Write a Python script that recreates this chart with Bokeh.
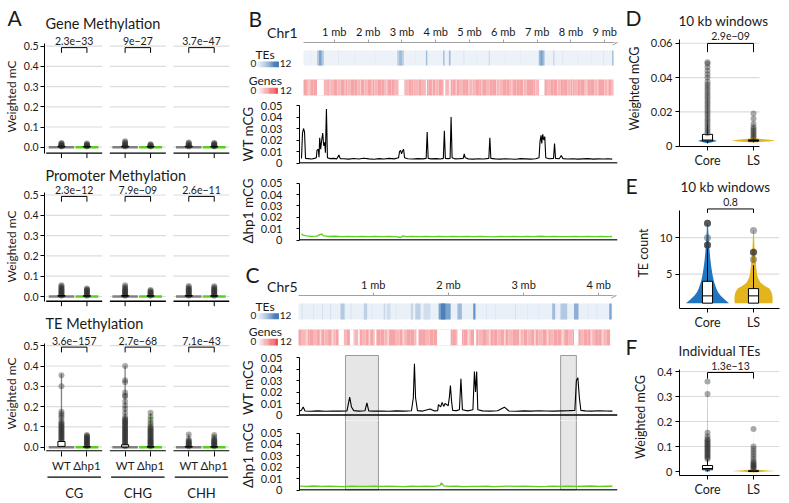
from bokeh.plotting import figure
from bokeh.layouts import row, column
from bokeh.models import Range1d, FixedTicker, NumeralTickFormatter, Span, Arrow, OpenHead
from bokeh.embed import file_html
from bokeh.resources import INLINE
from bokeh.core.properties import value

FONT = "Lato"
INK = "#1a1a1a"
GREEN = "#5acf1e"
VGREY = "#808080"
BLUE = "#1f77c0"
GOLD = "#e4b41f"
PTC = "#333333"
GRIDC = "#dcdcdc"
RULERC = "#a0a0a0"

# ======================= DATA =======================
# ---- Panel A ----
contexts = ["CG", "CHG", "CHH"]
genotypes = ["WT", "Δhp1"]
gene_pvals = ["2.3e−33", "9e−27", "3.7e−47"]
prom_pvals = ["2.3e−12", "7.9e−09", "2.6e−11"]
te_pvals = ["3.6e−157", "2.7e−68", "7.1e−43"]
a_yticks = [0, 0.1, 0.2, 0.3, 0.4, 0.5]

gene_wt_pts = [[0.003, 0.006, 0.009, 0.012, 0.015, 0.018, 0.021],
               [0.003, 0.007, 0.011, 0.015, 0.019, 0.024, 0.029],
               [0.003, 0.007, 0.011, 0.015, 0.019, 0.023]]
gene_hp_pts = [[0.003, 0.006, 0.009, 0.012, 0.015, 0.018],
               [0.003, 0.006, 0.009, 0.012, 0.015],
               [0.003, 0.006, 0.009, 0.012, 0.015, 0.018, 0.021]]
prom_wt_pts = [[0.004, 0.008, 0.012, 0.016, 0.02, 0.024, 0.028, 0.032, 0.036, 0.04, 0.045, 0.05, 0.055],
               [0.004, 0.008, 0.012, 0.016, 0.02, 0.024, 0.028, 0.032, 0.036, 0.042, 0.048, 0.055],
               [0.004, 0.008, 0.012, 0.016, 0.02, 0.024, 0.028, 0.032, 0.036, 0.04, 0.046, 0.052]]
prom_hp_pts = [[0.004, 0.008, 0.012, 0.016, 0.02, 0.024, 0.028, 0.032, 0.036, 0.04],
               [0.004, 0.008, 0.012, 0.016, 0.02, 0.024, 0.028, 0.032],
               [0.004, 0.008, 0.012, 0.016, 0.02, 0.024, 0.028, 0.032, 0.036, 0.04, 0.045, 0.05]]
te_wt_pts = [[0.03, 0.035, 0.04, 0.045, 0.05, 0.055, 0.06, 0.065, 0.07, 0.075, 0.08, 0.085, 0.09,
              0.095, 0.1, 0.105, 0.11, 0.115, 0.12, 0.13, 0.145, 0.155, 0.165, 0.175, 0.3, 0.355],
             [0.005, 0.01, 0.015, 0.02, 0.025, 0.03, 0.035, 0.04, 0.045, 0.05, 0.055, 0.06, 0.065,
              0.07, 0.075, 0.08, 0.085, 0.09, 0.095, 0.1, 0.105, 0.11, 0.115, 0.12, 0.125, 0.13,
              0.135, 0.14, 0.15, 0.17, 0.19, 0.205, 0.225, 0.25, 0.255, 0.27, 0.32, 0.33, 0.4],
             [0.004, 0.008, 0.012, 0.016, 0.02, 0.024, 0.028, 0.032, 0.04, 0.062]]
te_hp_pts = [[0.004, 0.008, 0.012, 0.016, 0.02, 0.024, 0.028, 0.032, 0.036, 0.04, 0.044, 0.048,
              0.052, 0.056, 0.06],
             [0.004, 0.008, 0.012, 0.016, 0.02, 0.024, 0.028, 0.032, 0.036, 0.04, 0.045, 0.05,
              0.055, 0.06, 0.065, 0.07, 0.075, 0.08, 0.085, 0.09, 0.095, 0.1, 0.11, 0.12, 0.135,
              0.15, 0.17],
             [0.004, 0.008, 0.012, 0.016, 0.02, 0.024, 0.028, 0.032, 0.036, 0.04, 0.05, 0.06]]
gene_q1_wt = [0.001, 0.001, 0.001]; gene_q3_wt = [0.005, 0.005, 0.005]
gene_q1_hp = [0.001, 0.001, 0.001]; gene_q3_hp = [0.004, 0.004, 0.004]
prom_q1_wt = [0.001, 0.001, 0.001]; prom_q3_wt = [0.005, 0.005, 0.005]
prom_q1_hp = [0.001, 0.001, 0.001]; prom_q3_hp = [0.004, 0.004, 0.004]
te_q1_wt = [0.004, 0.001, 0.0005]; te_q3_wt = [0.028, 0.012, 0.004]
te_q1_hp = [0.0005, 0.0005, 0.0005]; te_q3_hp = [0.003, 0.003, 0.003]
gene_tail_wt = [0.021, 0.029, 0.023]; gene_tail_hp = [0.018, 0.015, 0.021]
prom_tail_wt = [0.055, 0.055, 0.052]; prom_tail_hp = [0.04, 0.032, 0.05]
te_tail_wt = [0.36, 0.40, 0.065]; te_tail_hp = [0.062, 0.17, 0.06]

# ---- Panel B (Chr1) ----
chr1_ticks = [1, 2, 3, 4, 5, 6, 7, 8, 9]
chr1_start = 0.09
chr1_len = 9.26
te1_bg = 1.0
te1_s = [0.49, 0.55, 2.86, 2.92, 3.71, 4.22, 4.39, 5.57, 7.05, 7.10, 7.48, 9.22,
         0.30, 1.12, 1.60, 2.20, 3.40, 4.82, 5.20, 6.05, 6.50, 7.75, 8.20, 8.60, 8.95]
te1_e = [0.69, 0.62, 3.06, 3.00, 3.75, 4.26, 4.44, 5.60, 7.22, 7.16, 7.51, 9.26,
         0.32, 1.14, 1.62, 2.22, 3.42, 4.85, 5.22, 6.07, 6.52, 7.77, 8.22, 8.62, 8.97]
te1_v = [4, 7, 3.5, 5, 5, 5, 5, 3, 5, 7, 3.5, 5,
         1.6, 2, 1.6, 1.6, 1.6, 2, 1.6, 1.6, 1.6, 2, 1.6, 1.6, 2]
gene1_bin = 0.1
gene1_vals = [5, 4, 5, 5, 4, 5, 4, 5, 4, 5, 4, 5, 5, 4, 5, 5, 4, 5, 4, 5,
              5, 4, 5, 5, 4, 5, 5, 4, 5, 4, 4, 5, 5, 4, 5, 4, 5, 5, 5, 4,
              5, 5, 4, 5, 5, 5, 4, 5, 5, 4, 4, 5, 5, 5, 4, 5, 5, 4, 4, 5,
              5, 4, 5, 5, 5, 4, 5, 5, 5, 4, 5, 5, 4, 5, 5, 4, 5, 5, 4, 5,
              4, 5, 5, 4, 5, 5, 4, 5, 5, 4, 5, 4]
gene1_gap_s = [0.49, 2.90, 3.71, 4.23, 4.40, 7.06]
gene1_gap_e = [0.69, 3.07, 3.74, 4.28, 4.44, 7.22]
gene1_light = [0.25, 0.85, 1.32, 1.78, 2.12, 2.55, 3.35, 3.90, 4.62, 4.97,
               5.35, 5.80, 6.25, 6.60, 6.95, 7.60, 8.05, 8.45, 8.80, 9.10]

wt1_x = [0.00, 0.03, 0.06, 0.09, 0.12, 0.20, 0.30, 0.38, 0.44, 0.46,
         0.50, 0.52, 0.54, 0.57, 0.60, 0.63, 0.66, 0.69, 0.71, 0.74,
         0.77, 0.85, 0.95, 1.05, 1.11, 1.15, 1.25, 1.40, 1.55, 1.70,
         1.85, 2.00, 2.15, 2.30, 2.45, 2.60, 2.75, 2.88, 2.91, 2.94,
         2.97, 3.00, 3.03, 3.06, 3.15, 3.30, 3.45, 3.60, 3.70, 3.73,
         3.76, 3.85, 4.00, 4.12, 4.21, 4.24, 4.27, 4.35, 4.41, 4.44,
         4.47, 4.55, 4.70, 4.80, 4.83, 4.86, 4.95, 5.10, 5.25, 5.40,
         5.56, 5.59, 5.62, 5.75, 5.90, 6.05, 6.20, 6.35, 6.50, 6.65,
         6.80, 6.95, 7.05, 7.08, 7.11, 7.13, 7.16, 7.19, 7.22, 7.25,
         7.35, 7.48, 7.51, 7.54, 7.65, 7.71, 7.76, 7.90, 8.05, 8.20,
         8.35, 8.50, 8.65, 8.80, 8.95, 9.10, 9.22]
wt1_y = [0.0040, 0.0260, 0.0300, 0.0270, 0.0040, 0.0038, 0.0035, 0.0040, 0.0045, 0.0110,
         0.0120, 0.0050, 0.0220, 0.0120, 0.0200, 0.0260, 0.0150, 0.0180, 0.0090, 0.0470,
         0.0045, 0.0038, 0.0040, 0.0036, 0.0070, 0.0038, 0.0037, 0.0034, 0.0039, 0.0035,
         0.0041, 0.0036, 0.0033, 0.0038, 0.0035, 0.0040, 0.0036, 0.0045, 0.0100, 0.0110,
         0.0080, 0.0105, 0.0120, 0.0045, 0.0037, 0.0035, 0.0038, 0.0036, 0.0040, 0.0270,
         0.0040, 0.0036, 0.0038, 0.0035, 0.0040, 0.0280, 0.0040, 0.0038, 0.0040, 0.0400,
         0.0045, 0.0036, 0.0038, 0.0040, 0.0080, 0.0045, 0.0036, 0.0034, 0.0037, 0.0035,
         0.0040, 0.0220, 0.0040, 0.0036, 0.0034, 0.0037, 0.0035, 0.0033, 0.0038, 0.0036,
         0.0034, 0.0037, 0.0045, 0.0190, 0.0240, 0.0170, 0.0250, 0.0200, 0.0230, 0.0045,
         0.0037, 0.0040, 0.0170, 0.0040, 0.0037, 0.0065, 0.0038, 0.0035, 0.0037, 0.0034,
         0.0036, 0.0038, 0.0034, 0.0036, 0.0035, 0.0037, 0.0034]
hp1_x = [0.00, 0.05, 0.15, 0.30, 0.45, 0.55, 0.60, 0.65, 0.80, 1.00,
         1.20, 1.40, 1.60, 1.80, 2.00, 2.20, 2.40, 2.60, 2.80, 2.95,
         3.00, 3.10, 3.30, 3.50, 3.70, 3.90, 4.10, 4.30, 4.50, 4.70,
         4.90, 5.10, 5.30, 5.50, 5.70, 5.90, 6.10, 6.30, 6.50, 6.70,
         6.90, 7.10, 7.30, 7.50, 7.70, 7.90, 8.10, 8.30, 8.50, 8.70,
         8.90, 9.10, 9.22]
hp1_y = [0.0055, 0.0042, 0.0036, 0.0032, 0.0034, 0.0048, 0.0053, 0.0036, 0.0031, 0.0033,
         0.0030, 0.0032, 0.0029, 0.0031, 0.0030, 0.0032, 0.0029, 0.0031, 0.0030, 0.0022,
         0.0036, 0.0030, 0.0031, 0.0029, 0.0032, 0.0030, 0.0031, 0.0029, 0.0031, 0.0030,
         0.0032, 0.0029, 0.0031, 0.0030, 0.0028, 0.0031, 0.0030, 0.0032, 0.0029, 0.0031,
         0.0030, 0.0033, 0.0029, 0.0031, 0.0030, 0.0029, 0.0031, 0.0030, 0.0032, 0.0029,
         0.0031, 0.0030, 0.0031]

# ---- Panel C (Chr5) ----
chr5_ticks = [1, 2, 3, 4]
chr5_start = 0.0
chr5_len = 4.18
te5_bg = 1.1
te5_s = [0.05, 0.32, 0.43, 0.565, 0.70, 0.875, 1.14, 1.18, 1.50, 1.56, 1.67, 1.87, 1.90, 2.12,
         2.33, 2.89, 3.38, 3.49, 3.67, 4.14, 0.20, 0.98, 1.30, 2.50, 2.62, 3.05, 3.20, 3.85, 3.97]
te5_e = [0.06, 0.33, 0.44, 0.62, 0.71, 0.92, 1.16, 1.23, 1.53, 1.63, 1.76, 2.03, 1.96, 2.18,
         2.36, 2.90, 3.42, 3.58, 3.73, 4.17, 0.21, 0.99, 1.31, 2.51, 2.63, 3.06, 3.21, 3.86, 3.98]
te5_v = [2.5, 2.5, 2.5, 4, 2.5, 3.5, 3, 2.5, 3, 3.5, 2.5, 7, 9.5, 5,
         8, 2.5, 5, 4, 6, 7, 1.8, 1.8, 1.8, 1.8, 1.8, 1.8, 1.8, 2, 2]
gene5_bin = 0.05
gene5_vals = [5, 4, 5, 5, 4, 5, 5, 4, 5, 4, 5, 5, 4, 5, 5, 4, 5, 4, 5, 5,
              4, 5, 5, 4, 5, 5, 4, 5, 4, 5, 5, 4, 5, 5, 4, 5, 5, 4, 5, 4,
              5, 5, 4, 5, 5, 4, 5, 5, 4, 5, 4, 5, 5, 4, 5, 5, 4, 5, 5, 4,
              5, 4, 5, 5, 4, 5, 5, 4, 5, 5, 4, 5, 4, 5, 5, 4, 5, 5, 4, 5,
              5, 4, 5]
gene5_gap_s = [0.54, 0.69, 0.80, 1.02, 1.575, 1.85, 2.12, 2.34, 3.67]
gene5_gap_e = [0.61, 0.74, 0.82, 1.04, 1.600, 2.03, 2.18, 2.37, 3.73]
gene5_light = [0.12, 0.30, 0.46, 0.95, 1.20, 1.40, 2.27, 2.55, 2.75, 2.95, 3.15, 3.32, 3.52, 3.90, 4.05]
hl5_s = [0.62, 3.49]
hl5_e = [1.06, 3.70]
wt5_x = [0.00, 0.03, 0.056, 0.08, 0.15, 0.25, 0.35, 0.45, 0.55, 0.64,
         0.676, 0.70, 0.73, 0.80, 0.88, 0.906, 0.93, 1.00, 1.10, 1.20,
         1.30, 1.40, 1.50, 1.525, 1.54, 1.555, 1.58, 1.65, 1.75, 1.80,
         1.85, 1.86, 1.89, 1.91, 1.93, 1.95, 1.97, 1.99, 2.005, 2.02,
         2.035, 2.05, 2.10, 2.14, 2.16, 2.18, 2.25, 2.32, 2.34, 2.355,
         2.37, 2.385, 2.45, 2.55, 2.65, 2.74, 2.80, 2.90, 3.00, 3.10,
         3.20, 3.30, 3.40, 3.50, 3.60, 3.68, 3.70, 3.72, 3.74, 3.76,
         3.82, 3.90, 4.00, 4.10, 4.18]
wt5_y = [0.0035, 0.0040, 0.0070, 0.0035, 0.0033, 0.0036, 0.0032, 0.0035, 0.0034, 0.0036,
         0.0155, 0.0070, 0.0038, 0.0034, 0.0037, 0.0105, 0.0036, 0.0034, 0.0035, 0.0033,
         0.0036, 0.0034, 0.0037, 0.0150, 0.0445, 0.0150, 0.0038, 0.0034, 0.0052, 0.0036,
         0.0038, 0.0090, 0.0070, 0.0110, 0.0075, 0.0100, 0.0090, 0.0080, 0.0150, 0.0257,
         0.0120, 0.0040, 0.0038, 0.0045, 0.0315, 0.0045, 0.0036, 0.0045, 0.0378, 0.0200,
         0.0378, 0.0045, 0.0036, 0.0034, 0.0037, 0.0068, 0.0035, 0.0033, 0.0036, 0.0034,
         0.0037, 0.0035, 0.0034, 0.0036, 0.0038, 0.0040, 0.0300, 0.0323, 0.0150, 0.0040,
         0.0036, 0.0034, 0.0037, 0.0035, 0.0034]
hp5_x = [0.00, 0.10, 0.20, 0.30, 0.40, 0.50, 0.60, 0.70, 0.80, 0.90,
         1.00, 1.10, 1.20, 1.30, 1.40, 1.50, 1.60, 1.70, 1.80, 1.88,
         1.90, 1.93, 2.00, 2.10, 2.20, 2.30, 2.40, 2.50, 2.60, 2.70,
         2.80, 2.90, 3.00, 3.10, 3.20, 3.30, 3.40, 3.50, 3.60, 3.70,
         3.80, 3.90, 4.00, 4.10, 4.18]
hp5_y = [0.0034, 0.0032, 0.0035, 0.0031, 0.0033, 0.0032, 0.0030, 0.0033, 0.0031, 0.0032,
         0.0034, 0.0031, 0.0033, 0.0032, 0.0030, 0.0033, 0.0031, 0.0034, 0.0032, 0.0038,
         0.0062, 0.0036, 0.0031, 0.0033, 0.0030, 0.0032, 0.0031, 0.0033, 0.0030, 0.0032,
         0.0034, 0.0031, 0.0033, 0.0032, 0.0030, 0.0031, 0.0033, 0.0032, 0.0034, 0.0031,
         0.0033, 0.0035, 0.0032, 0.0034, 0.0033]

# ---- Panels D, E, F ----
groups = ["Core", "LS"]
d_pval = "2.9e−09"; e_pval = "0.8"; f_pval = "1.3e−13"
d_core_y = [0.0017, 0.0024, 0.0030, 0.0036, 0.0045, 0.0070, 0.0120, 0.0200, 0.0300, 0.0400, 0.0500]
d_core_d = [0.0, 0.25, 0.44, 0.30, 0.10, 0.04, 0.025, 0.018, 0.012, 0.008, 0.0]
d_ls_y = [0.0022, 0.0028, 0.0033, 0.0038, 0.0045, 0.0060, 0.0100, 0.0190]
d_ls_d = [0.0, 0.70, 1.00, 0.70, 0.15, 0.04, 0.02, 0.0]
d_core_box = [0.0031, 0.0036, 0.0069, 0.0017, 0.0125]   # q1, median, q3, low, high
d_ls_box = [0.0029, 0.0033, 0.0037, 0.0022, 0.0045]
d_core_pts = [0.0075, 0.009, 0.0105, 0.012, 0.0135, 0.015, 0.0165, 0.018, 0.0195, 0.021, 0.0225,
              0.024, 0.0255, 0.027, 0.0285, 0.030, 0.0315, 0.033, 0.0345, 0.036, 0.0375, 0.040,
              0.042, 0.044, 0.046, 0.048, 0.049]
d_ls_pts = [0.005, 0.006, 0.007, 0.008, 0.009, 0.010, 0.011, 0.013, 0.016, 0.019]

e_core_y = [1, 1.5, 2, 2.5, 3, 4, 5, 6, 7, 8, 9, 10, 11, 12]
e_core_d = [0.98, 0.78, 0.60, 0.48, 0.40, 0.29, 0.22, 0.17, 0.13, 0.10, 0.07, 0.05, 0.035, 0.02]
e_ls_y = [1, 1.5, 2, 2.5, 3, 3.4, 3.8, 4.5, 5, 6, 7, 8, 9, 10, 11]
e_ls_d = [0.86, 0.87, 0.86, 0.82, 0.72, 0.50, 0.32, 0.20, 0.16, 0.12, 0.09, 0.06, 0.04, 0.03, 0.015]
e_core_box = [1, 2, 4, 1, 8.5]
e_ls_box = [1, 2, 3, 1, 6.2]
e_core_pts = [9, 9, 9, 10, 12, 12, 12]
e_ls_pts = [7, 8, 8, 8, 11]

f_core_y = [0.0, 0.003, 0.008, 0.02, 0.05, 0.1, 0.2, 0.3, 0.36]
f_core_d = [0.10, 0.12, 0.05, 0.02, 0.012, 0.01, 0.008, 0.006, 0.0]
f_ls_y = [-0.004, 0.0, 0.002, 0.004, 0.008, 0.02, 0.05, 0.1, 0.17]
f_ls_d = [0.0, 0.6, 1.0, 0.6, 0.1, 0.02, 0.01, 0.005, 0.0]
f_core_box = [0.007, 0.012, 0.024, 0.0, 0.05]
f_ls_box = [0.0005, 0.0015, 0.003, 0.0, 0.008]
f_core_pts = [0.05, 0.055, 0.06, 0.065, 0.07, 0.075, 0.08, 0.085, 0.09, 0.095, 0.1, 0.105,
              0.11, 0.115, 0.12, 0.125, 0.13, 0.14, 0.155, 0.31, 0.36]
f_ls_pts = [0.01, 0.014, 0.018, 0.022, 0.026, 0.03, 0.035, 0.04, 0.05, 0.06, 0.07, 0.08, 0.09, 0.1, 0.17]


# ======================= HELPERS =======================
def blend(hex_end, t):
    r1, g1, b1 = int(hex_end[1:3], 16), int(hex_end[3:5], 16), int(hex_end[5:7], 16)
    r = round(255 + (r1 - 255) * t); g = round(255 + (g1 - 255) * t); b = round(255 + (b1 - 255) * t)
    return "#%02x%02x%02x" % (r, g, b)


def te_color(v):
    return blend("#1c5ea8", min(max(v / 12.0, 0.0), 1.0))


def gene_color(v):
    return blend("#e8262b", min(max(v / 12.0, 0.0), 1.0))


def base_fig(w, h, xr, yr, l, r, t, b, xloc="below", yloc="left"):
    p = figure(width=w, height=h, x_range=xr, y_range=yr, output_backend="svg",
               toolbar_location=None, min_border_left=l, min_border_right=r,
               min_border_top=t, min_border_bottom=b,
               x_axis_location=xloc, y_axis_location=yloc)
    p.outline_line_color = None
    p.grid.visible = False
    try:
        p.frame_align = False
    except Exception:
        pass
    return p


def page_fig(x0, y0, w, h):
    """A figure whose frame covers it all, in page-pixel coordinates (y downwards)."""
    return base_fig(w, h, Range1d(x0, x0 + w), Range1d(y0 + h, y0), 0, 0, 0, 0, xloc=None, yloc=None)


def txt(p, x, base, text, size, align="left"):
    # 'base' is the page y of the letters' baseline; text is centred on the cap height
    p.text(x=[x], y=[base - 0.36 * size], text=[text], text_align=align, text_baseline="middle",
           text_font=value(FONT), text_font_size="%.1fpx" % size, text_color=INK)


def style_axis(ax, size, tick_out=4, standoff=3):
    ax.axis_label_text_font = FONT
    ax.axis_label_text_font_style = "normal"
    ax.axis_label_text_color = INK
    ax.major_label_text_font = FONT
    ax.major_label_text_font_size = size
    ax.major_label_text_color = INK
    ax.minor_tick_line_color = None
    ax.major_tick_out = tick_out
    ax.major_tick_in = 0
    ax.major_label_standoff = standoff
    ax.axis_line_color = "black"
    ax.major_tick_line_color = "black"


# ======================= PANEL A =======================
AW = 236
A_X = (-1.333, 13.2)
WT_POS = [0, 5, 10]
HP_POS = [2, 7, 12]
FACET_C = [1, 6, 11]


def panel_a(h, top, bottom, zero, pxu, ftop, fbot, base_px, pvals,
            wt_pts, hp_pts, q1w, q3w, q1h, q3h, tailw, tailh, show_labels):
    y0 = (zero - fbot) / pxu
    y1 = (zero - ftop) / pxu
    yb = (zero - base_px) / pxu
    p = base_fig(AW, h, Range1d(*A_X), Range1d(y0, y1), 44, 7, top, bottom,
                 xloc="below" if show_labels else None)
    gx0, gx1, gy = [], [], []
    for c in FACET_C:
        for g in a_yticks:
            gx0.append(c - 2.2); gx1.append(c + 2.2); gy.append(g)
    p.segment(x0=gx0, y0=gy, x1=gx1, y1=gy, line_color=GRIDC, line_width=1.2)
    p.segment(x0=[c - 2.2 for c in FACET_C], y0=[yb] * 3, x1=[c + 2.2 for c in FACET_C],
              y1=[yb] * 3, line_color="black", line_width=1.4)
    if not show_labels:
        tks = WT_POS + HP_POS
        p.segment(x0=tks, y0=[yb] * 6, x1=tks, y1=[yb - 5.0 / pxu] * 6, line_color="black", line_width=1)
    p.segment(x0=WT_POS, y0=[0] * 3, x1=WT_POS, y1=tailw, line_color=VGREY, line_width=1.3)
    p.segment(x0=HP_POS, y0=[0] * 3, x1=HP_POS, y1=tailh, line_color=GREEN, line_width=1.3)
    p.segment(x0=[x - 1 for x in WT_POS], y0=[0] * 3, x1=[x + 1 for x in WT_POS], y1=[0] * 3,
              line_color=VGREY, line_width=2.5)
    p.segment(x0=[x - 0.9 for x in HP_POS], y0=[0] * 3, x1=[x + 0.9 for x in HP_POS], y1=[0] * 3,
              line_color=GREEN, line_width=2.5)
    xs, ys = [], []
    for i in range(3):
        xs += [WT_POS[i]] * len(wt_pts[i]); ys += wt_pts[i]
        xs += [HP_POS[i]] * len(hp_pts[i]); ys += hp_pts[i]
    p.scatter(xs, ys, size=6, fill_color=PTC, fill_alpha=0.4, line_color=None)
    p.quad(left=[x - 0.28 for x in WT_POS], right=[x + 0.28 for x in WT_POS], bottom=q1w, top=q3w,
           fill_color="white", line_color="black", line_width=1)
    p.quad(left=[x - 0.28 for x in HP_POS], right=[x + 0.28 for x in HP_POS], bottom=q1h, top=q3h,
           fill_color="white", line_color="black", line_width=1)
    bx, by = [], []
    for i in range(3):
        bx.append([WT_POS[i], WT_POS[i], HP_POS[i], HP_POS[i]])
        by.append([0.467, 0.493, 0.493, 0.467])
    p.multi_line(bx, by, line_color="black", line_width=1)
    p.text(x=FACET_C, y=[0.524] * 3, text=pvals, text_align="center", text_baseline="middle",
           text_font=value(FONT), text_font_size="10.5px", text_color=INK)
    ya = p.yaxis[0]
    style_axis(ya, "10.5px", 4, 2)
    ya.ticker = FixedTicker(ticks=a_yticks)
    ya.formatter = NumeralTickFormatter(format="0.0")
    ya.bounds = (yb, 0.513)
    ya.axis_label = "Weighted mC"
    ya.axis_label_text_font_size = "12px"
    ya.axis_label_standoff = 2
    if show_labels:
        xa = p.xaxis[0]
        style_axis(xa, "11.5px", 5, 2)
        xa.ticker = FixedTicker(ticks=WT_POS + HP_POS)
        xa.axis_line_color = None
        ov = {}
        for i in range(3):
            ov[WT_POS[i]] = genotypes[0]
            ov[HP_POS[i]] = genotypes[1]
        xa.major_label_overrides = ov
    return p


a1h = page_fig(0, 0, AW, 34)
txt(a1h, 7, 25, "A", 21)
txt(a1h, 45, 28.3, "Gene Methylation", 14.5)
a1 = panel_a(126, 0, 2, 146.7, 202, 34, 158, 152.6, gene_pvals,
             gene_wt_pts, gene_hp_pts, gene_q1_wt, gene_q3_wt, gene_q1_hp, gene_q3_hp,
             gene_tail_wt, gene_tail_hp, False)
a2h = page_fig(0, 160, AW, 24)
txt(a2h, 45, 180.5, "Promoter Methylation", 14.5)
a2 = panel_a(126, 0, 2, 296, 203, 184, 308, 300.7, prom_pvals,
             prom_wt_pts, prom_hp_pts, prom_q1_wt, prom_q3_wt, prom_q1_hp, prom_q3_hp,
             prom_tail_wt, prom_tail_hp, False)
a3h = page_fig(0, 310, AW, 24)
txt(a3h, 45, 328.3, "TE Methylation", 14.5)
a3 = panel_a(140, 1, 23, 446.7, 203, 335, 451, 450.4, te_pvals,
             te_wt_pts, te_hp_pts, te_q1_wt, te_q3_wt, te_q1_hp, te_q3_hp,
             te_tail_wt, te_tail_hp, True)

astrip = base_fig(AW, 28, Range1d(*A_X), Range1d(28, 0), 44, 7, 0, 0, xloc=None, yloc=None)
astrip.segment(x0=[c - 2.1 for c in FACET_C], y0=[2.7] * 3, x1=[c + 2.1 for c in FACET_C], y1=[2.7] * 3,
               line_color="black", line_width=1.3)
astrip.text(x=FACET_C, y=[18] * 3, text=contexts, text_align="center", text_baseline="middle",
            text_font=value(FONT), text_font_size="13px", text_color=INK)


# ======================= PANELS B, C =======================
def legend_bar(p, x0, x1, ya, yb, cfn):
    n = 24
    w = (x1 - x0) / n
    p.quad(left=[x0 + w * i for i in range(n)], right=[x0 + w * (i + 1) for i in range(n)],
           top=[ya] * n, bottom=[yb] * n, fill_color=[cfn(12.0 * (i + 0.5) / n) for i in range(n)],
           line_color=None)


def te_legend(y0, h, letter, letter_xy, chrom, chrom_base, tes_base, bar_top, bar_bot):
    p = page_fig(236, y0, 62, h)
    txt(p, letter_xy[0], letter_xy[1], letter, 21)
    txt(p, 297, chrom_base, chrom, 14, align="right")
    txt(p, 255, tes_base, "TEs", 12)
    legend_bar(p, 255.3, 278.3, bar_top, bar_bot, te_color)
    txt(p, 250, bar_bot, "0", 10)
    txt(p, 279.3, bar_bot, "12", 10)
    return p


def gene_legend(y0, h, genes_base, bar_top, bar_bot):
    p = page_fig(236, y0, 62, h)
    txt(p, 248.3, genes_base, "Genes", 12)
    legend_bar(p, 256.7, 277.3, bar_top, bar_bot, gene_color)
    txt(p, 250, bar_bot, "0", 10)
    txt(p, 279.6, bar_bot, "12", 10)
    return p


def te_fig(h, top, ftop, fbot, x0px, pxmb, s_top, s_bot, cstart, clen, bg, s, e, v, ticks):
    xr = Range1d((298 - x0px) / pxmb, (617 - x0px) / pxmb)
    p = base_fig(324, h, xr, Range1d(fbot, ftop), 0, 5, top, 0, xloc="above", yloc=None)
    p.quad(left=[cstart], right=[clen], top=[s_top], bottom=[s_bot],
           fill_color=te_color(bg), line_color=None)
    p.quad(left=s, right=e, top=[s_top] * len(s), bottom=[s_bot] * len(s),
           fill_color=[te_color(x) for x in v], line_color=None)
    ax = p.xaxis[0]
    style_axis(ax, "11px", 3, 2)
    ax.ticker = FixedTicker(ticks=ticks)
    ax.major_label_overrides = {k: "%d mb" % k for k in ticks}
    ax.bounds = (cstart, clen)
    ax.axis_line_color = RULERC
    ax.major_tick_line_color = RULERC
    p.add_layout(Arrow(end=OpenHead(size=5, line_color=RULERC, line_width=1),
                       x_start=clen - 0.03, y_start=ftop, x_end=clen + 4.0 / pxmb,
                       y_end=ftop, line_color=RULERC, line_width=1))
    return p


def gene_fig(h, ftop, fbot, x0px, pxmb, s_top, s_bot, cstart, clen, vals, binw, gs, ge, light):
    xr = Range1d((298 - x0px) / pxmb, (617 - x0px) / pxmb)
    p = base_fig(324, h, xr, Range1d(fbot, ftop), 0, 5, 0, 0, xloc=None, yloc=None)
    n = len(vals)
    lefts = [cstart + binw * i for i in range(n)]
    rights = [min(cstart + binw * (i + 1), clen) for i in range(n)]
    p.quad(left=lefts, right=rights, top=[s_top] * n, bottom=[s_bot] * n,
           fill_color=[gene_color(x) for x in vals], line_color=None)
    p.quad(left=[x - 0.012 for x in light], right=[x + 0.012 for x in light],
           top=[s_top] * len(light), bottom=[s_bot] * len(light),
           fill_color=gene_color(2.2), line_color=None)
    p.quad(left=gs, right=ge, top=[s_top] * len(gs), bottom=[s_bot] * len(gs),
           fill_color="white", line_color=None)
    return p


def line_fig(h, top, bottom, ftop, zero, fbot, pxu, x0px, pxmb, xs, ys, color, lw, ylabel,
             hl_s=None, hl_e=None, hl_top=None, hl_bot=None):
    y0 = (zero - fbot) / pxu
    y1 = (zero - ftop) / pxu
    xr = Range1d((298 - x0px) / pxmb, (617 - x0px) / pxmb)
    p = base_fig(386, h, xr, Range1d(y0, y1), 62, 5, top, bottom, xloc=None)
    if hl_s:
        tp = y1 + 0.01 if hl_top is None else y1 - hl_top / pxu
        bt = y0 - 0.01 if hl_bot is None else hl_bot
        p.quad(left=hl_s, right=hl_e, top=[tp] * len(hl_s), bottom=[bt] * len(hl_s),
               fill_color="#e6e6e6", line_color="#9a9a9a", line_width=1)
    p.line(xs, ys, line_color=color, line_width=lw)
    p.add_layout(Span(location=0, dimension="width", line_color="black", line_width=1.3))
    ya = p.yaxis[0]
    style_axis(ya, "11px", 3, 14)
    ya.ticker = FixedTicker(ticks=[0, 0.01, 0.02, 0.03, 0.04, 0.05])
    ya.formatter = NumeralTickFormatter(format="0.[00]")
    ya.bounds = (0, 0.05)
    ya.axis_label = ylabel
    ya.axis_label_text_font_size = "13.5px"
    ya.axis_label_standoff = 2
    return p


# Chr1 geometry: 0 mb at x=300px, 33.8 px/mb ; Chr5: 0 mb at 297.5px, 75.2 px/mb
bleg1 = te_legend(0, 68, "B", (248, 26), "Chr1", 36.7, 58.3, 61, 66.7)
bte = te_fig(68, 42, 42, 68, 300, 33.8, 50, 65, chr1_start, chr1_len, te1_bg, te1_s, te1_e, te1_v, chr1_ticks)
bleg2 = gene_legend(68, 30, 84, 87.3, 93.3)
bgene = gene_fig(30, 68, 98, 300, 33.8, 79, 95, chr1_start, chr1_len, gene1_vals, gene1_bin,
                 gene1_gap_s, gene1_gap_e, gene1_light)
bwt = line_fig(72, 6, 7, 104, 162.5, 163, 1150, 300, 33.8, wt1_x, wt1_y, "black", 1.1, "WT mCG")
bhp = line_fig(80, 11, 10, 181, 239.5, 240, 1136, 300, 33.8, hp1_x, hp1_y, GREEN, 1.3, "Δhp1 mCG")

cleg1 = te_legend(250, 71, "C", (245, 282), "Chr5", 290.7, 310, 312.7, 318.7)
cte = te_fig(71, 45, 295, 321, 297.5, 75.2, 303, 319, chr5_start, chr5_len, te5_bg, te5_s, te5_e, te5_v, chr5_ticks)
cleg2 = gene_legend(321, 30, 335, 338.3, 345)
cgene = gene_fig(30, 321, 351, 297.5, 75.2, 329, 345, chr5_start, chr5_len, gene5_vals, gene5_bin,
                 gene5_gap_s, gene5_gap_e, gene5_light)
cwt = line_fig(69, 3, 0, 354, 414.5, 420, 1150, 297.5, 75.2, wt5_x, wt5_y, "black", 1.1, "WT mCG",
               hl5_s, hl5_e, hl_top=1.0, hl_bot=None)
chp = line_fig(82, 0, 12, 420, 489.5, 490, 1140, 297.5, 75.2, hp5_x, hp5_y, GREEN, 1.3, "Δhp1 mCG",
               hl5_s, hl5_e, hl_top=None, hl_bot=0.0)


# ======================= PANELS D, E, F =======================
DW = 166
VW = 0.478
SX = (0.391, 2.565)


def violin(p, x, ys, ds, color):
    p.harea(y=ys, x1=[x - VW * d for d in ds], x2=[x + VW * d for d in ds],
            fill_color=color, fill_alpha=1.0)


def boxplot(p, x, bx, hw=0.11):
    q1, med, q3, lo, hi = bx
    p.segment(x0=[x], y0=[lo], x1=[x], y1=[hi], line_color="black", line_width=1)
    p.quad(left=[x - hw], right=[x + hw], bottom=[q1], top=[q3], fill_color="white",
           line_color="black", line_width=1)
    p.segment(x0=[x - hw], y0=[med], x1=[x + hw], y1=[med], line_color="black", line_width=1)


def side_fig(h, bottom, ftop, fbot, zero, pxu, yticks, fmt, ytop_axis, x_axis_end, gridv,
             ylabel, pval, br_top, br_leg, p_y,
             core_y, core_d, ls_y, ls_d, core_box, ls_box, core_pts, ls_pts, pt_size=6):
    y0 = (zero - fbot) / pxu
    y1 = (zero - ftop) / pxu
    p = base_fig(DW, h, Range1d(*SX), Range1d(y0, y1), 57, DW - 57 - 100, 0, bottom)
    p.segment(x0=[SX[0]] * len(gridv), y0=gridv, x1=[x_axis_end] * len(gridv), y1=gridv,
              line_color=GRIDC, line_width=1.2)
    violin(p, 1, core_y, core_d, BLUE)
    violin(p, 2, ls_y, ls_d, GOLD)
    boxplot(p, 1, core_box)
    boxplot(p, 2, ls_box)
    p.scatter([1] * len(core_pts) + [2] * len(ls_pts), core_pts + ls_pts, size=pt_size,
              fill_color=PTC, fill_alpha=0.42, line_color=None)
    p.multi_line([[1, 1, 2, 2]], [[br_leg, br_top, br_top, br_leg]], line_color="black", line_width=1)
    p.text(x=[1.5], y=[p_y], text=[pval], text_align="center", text_baseline="middle",
           text_font=value(FONT), text_font_size="10.5px", text_color=INK)
    ya = p.yaxis[0]
    style_axis(ya, "11px", 4, 3)
    ya.ticker = FixedTicker(ticks=yticks)
    if fmt:
        ya.formatter = NumeralTickFormatter(format=fmt)
    ya.bounds = (y0, ytop_axis)
    ya.axis_label = ylabel
    ya.axis_label_text_font_size = "12.5px"
    ya.axis_label_standoff = 6
    xa = p.xaxis[0]
    style_axis(xa, "12.5px", 4, 2)
    xa.ticker = FixedTicker(ticks=[1, 2])
    xa.major_label_overrides = {1: groups[0], 2: groups[1]}
    xa.bounds = (SX[0], x_axis_end)
    return p


dh = page_fig(622, 0, DW, 30)
txt(dh, 625, 25, "D", 21)
txt(dh, 678, 25, "10 kb windows", 13.5)
dpan = side_fig(140, 23, 30, 147.3, 147, 1735, [0, 0.02, 0.04, 0.06], "0.[00]", 0.0622, 2.13,
                [0.02, 0.04, 0.06], "Weighted mCG", d_pval, 0.0599, 0.0548, 0.0645,
                d_core_y, d_core_d, d_ls_y, d_ls_d, d_core_box, d_ls_box, d_core_pts, d_ls_pts)
eh = page_fig(622, 170, DW, 27)
txt(eh, 625, 193, "E", 21)
txt(eh, 680, 191.7, "10 kb windows", 13.5)
epan = side_fig(135, 19, 197, 313, 315, 7.6, [5, 10], None, 13.8, SX[1],
                [5, 10], "TE count", e_pval, 13.95, 13.4, 14.87,
                e_core_y, e_core_d, e_ls_y, e_ls_d, e_core_box, e_ls_box, e_core_pts, e_ls_pts, pt_size=7)
fh = page_fig(622, 332, DW, 26)
txt(fh, 625, 354, "F", 21)
txt(fh, 678, 355, "Individual TEs", 13.5)
fpan = side_fig(144, 27, 358, 475, 471, 250, [0, 0.1, 0.2, 0.3, 0.4], "0.[0]", 0.408, SX[1],
                [0.1, 0.2, 0.3, 0.4], "Weighted mCG", f_pval, 0.396, 0.372, 0.422,
                f_core_y, f_core_d, f_ls_y, f_ls_d, f_core_box, f_ls_box, f_core_pts, f_ls_pts)

layout = row(column(a1h, a1, a2h, a2, a3h, a3, astrip),
             column(row(bleg1, bte), row(bleg2, bgene), bwt, bhp,
                    row(cleg1, cte), row(cleg2, cgene), cwt, chp),
             column(dh, dpan, eh, epan, fh, fpan))

open("out.html", "w").write(file_html(layout, INLINE))
